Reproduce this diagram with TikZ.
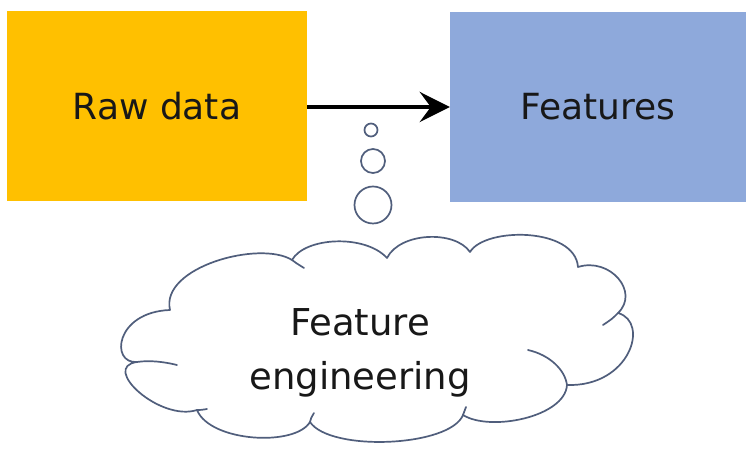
\documentclass[tikz,border=0pt]{standalone}
\usepackage{fontspec}
\setmainfont{DejaVu Sans}
\usetikzlibrary{arrows.meta}
\definecolor{rawcol}{RGB}{255,192,0}
\definecolor{featcol}{RGB}{142,169,219}
\definecolor{outl}{RGB}{80,94,124}
\definecolor{txt}{RGB}{24,24,24}
\tikzset{
  box/.style={rectangle, inner sep=0pt, draw=none, text=txt, font=\fontsize{36}{42}\selectfont},
  bubble/.style={circle, draw=outl, line width=1.7pt, fill=white, inner sep=0pt},
  cloudline/.style={draw=outl, line width=1.7pt, line join=round, line cap=round},
  lbl/.style={text=txt, font=\fontsize{37}{42}\selectfont, inner sep=0pt, anchor=base},
  flow/.style={line width=4.5pt, -{Stealth[length=30pt, width=30pt, inset=11pt]}}
}
\begin{document}
\begin{tikzpicture}[x=1pt, y=1pt]
\useasboundingbox (0,0) rectangle (748,452);
\fill[white] (0,0) rectangle (748,452);
% boxes
\node[box, fill=rawcol, minimum width=300pt, minimum height=190pt] (raw) at (157,346) {Raw data};
\node[box, fill=featcol, minimum width=296pt, minimum height=190pt] (feat) at (598,345) {Features};
% arrow
\draw[flow] (raw.east |- feat.west) -- (feat.west);
% thought bubbles
\node[bubble, minimum size=13pt] (b1) at (371,322) {};
\node[bubble, minimum size=24pt] (b2) at (373,291) {};
\node[bubble, minimum size=37pt] (b3) at (373,247) {};
% cloud
\coordinate (c1) at (197,42);
\coordinate (c2) at (137,90);
\coordinate (c3) at (170,142);
\coordinate (c4) at (292,192);
\coordinate (c5) at (387,194);
\coordinate (c6) at (470,200);
\coordinate (c7) at (578,185);
\coordinate (c8) at (618,139);
\coordinate (c9) at (567,67);
\coordinate (c10) at (463,37);
\coordinate (c11) at (310,30);
\path[cloudline, fill=white]
  (c1) .. controls (160,30) and (100,85) .. (c2)
       .. controls (110,88) and (115,140) .. (c3)
       .. controls (160,185) and (260,212) .. (c4)
       .. controls (305,215) and (365,218) .. (c5)
       .. controls (400,220) and (455,222) .. (c6)
       .. controls (485,225) and (575,225) .. (c7)
       .. controls (610,195) and (640,160) .. (c8)
       .. controls (650,130) and (630,65) .. (c9)
       .. controls (565,35) and (490,20) .. (c10)
       .. controls (450,5) and (330,0) .. (c11)
       .. controls (295,5) and (210,10) .. (c1) -- cycle;
% inner hints of the cloud
\draw[cloudline] (c2) .. controls (150,92) and (165,90) .. (177,87);
\draw[cloudline] (c4) .. controls (296,189) .. (304,184);
\draw[cloudline] (c8) .. controls (612,133) .. (603,127);
\draw[cloudline] (c9) .. controls (565,82) and (550,97) .. (528,102);
\draw[cloudline] (c11) .. controls (311,34) .. (314,39);
\draw[cloudline] (c10) .. controls (464,41) .. (466,45);
\draw[cloudline] (c1) .. controls (201,42) .. (207,43);
% text in the cloud
\node[lbl] (fe1) at (360,116) {Feature};
\node[lbl] (fe2) at (360,62) {engineering};
\end{tikzpicture}
\end{document}
